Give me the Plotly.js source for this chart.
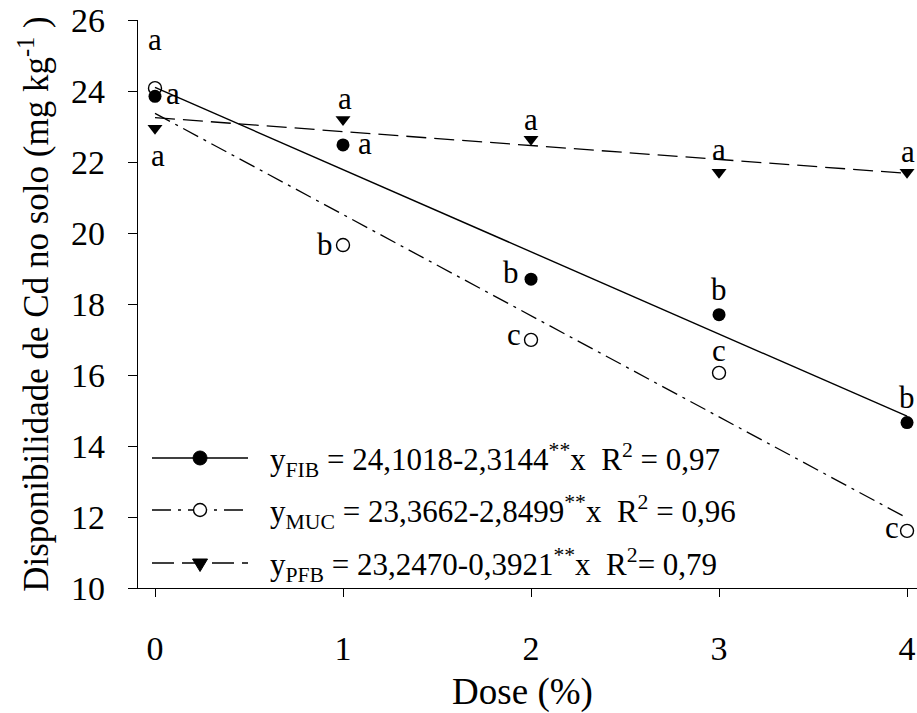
<!DOCTYPE html>
<html>
<head>
<meta charset="utf-8">
<script src="https://cdn.plot.ly/plotly-3.0.1.min.js"></script>
<style>html,body{margin:0;padding:0;background:#fff;}#chart{width:917px;height:713px;}</style>
</head>
<body>
<div id="chart"></div>
<script>
// ---- data ----
var dose = [0, 1, 2, 3, 4];
var cdFIB = [23.85, 22.48, 18.70, 17.70, 14.66];
var cdMUC = [24.08, 19.66, 16.99, 16.06, 11.61];
var cdPFB = [22.95, 23.20, 22.64, 21.71, 21.71];
var fitDose = [0, 4];
var fitFIB = [24.10, 14.84];
var fitMUC = [23.37, 11.97];
var fitPFB = [23.25, 21.68];
var lettersFIB = ['a', 'a', 'b', 'b', 'b'];
var lettersMUC = ['a', 'b', 'c', 'c', 'c'];
var lettersPFB = ['a', 'a', 'a', 'a', 'a'];
var seriesNames = ['FIB', 'MUC', 'PFB'];
var equations = [
  'y<sub>FIB</sub> = 24,1018-2,3144<sup>**</sup>x\u00a0\u00a0R<sup>2</sup> = 0,97',
  'y<sub>MUC</sub> = 23,3662-2,8499<sup>**</sup>x\u00a0\u00a0R<sup>2</sup> = 0,96',
  'y<sub>PFB</sub> = 23,2470-0,3921<sup>**</sup>x\u00a0\u00a0R<sup>2</sup>= 0,79'
];
var xTickLabels = ['0', '1', '2', '3', '4'];
var xTitle = 'Dose (%)';
var yTitle = 'Disponibilidade de Cd no solo (mg kg<sup>-1</sup> )';

// ---- styles ----
var FONT = '"Liberation Serif", "Times New Roman", serif';
var BLACK = '#000';
var dashFIB = 'solid', dashMUC = '17px,6px,3px,6px', dashPFB = '20px,8px';
// pixel offsets of the letters: [dx, dy up]
var offFIB = [[18, 3], [22, 1], [-20, 7], [0, 25], [0, 25]];
var offMUC = [[0, 49], [-18, 1], [-17, 5], [0, 22], [-15, 3]];
var offPFB = [[3, -27], [2, 21], [0, 20], [0, 23], [1, 21]];
// legend key geometry (paper fractions)
var legRowY = [0.2289, 0.1373, 0.0440];
var legLineX = [0.0304, 0.1521];
var legMarkX = 0.0913;
var legTextX = 0.1774;
var legDash = ['solid', '19px,7px,3px,7px', '22px,8px'];

var traces = [
  {x: fitDose, y: fitFIB, mode: 'lines', name: 'fit ' + seriesNames[0], showlegend: false,
   line: {color: BLACK, width: 1.4, dash: dashFIB}},
  {x: fitDose, y: fitMUC, mode: 'lines', name: 'fit ' + seriesNames[1], showlegend: false,
   line: {color: BLACK, width: 1.3, dash: dashMUC}},
  {x: fitDose, y: fitPFB, mode: 'lines', name: 'fit ' + seriesNames[2], showlegend: false,
   line: {color: BLACK, width: 1.3, dash: dashPFB}},
  {x: dose, y: cdFIB, mode: 'markers', name: seriesNames[0], showlegend: false,
   marker: {symbol: 'circle', size: 13, color: BLACK}},
  {x: dose, y: cdMUC, mode: 'markers', name: seriesNames[1], showlegend: false,
   marker: {symbol: 'circle-open', size: 13, color: BLACK, line: {width: 1.4}}},
  {x: dose, y: cdPFB, mode: 'markers', name: seriesNames[2], showlegend: false,
   marker: {symbol: 'triangle-down', size: 13, color: BLACK}}
];

var annotations = [];
function addLetters(ys, letters, offs) {
  for (var i = 0; i < dose.length; i++) {
    annotations.push({
      x: dose[i], y: ys[i], xref: 'x', yref: 'y', text: letters[i], showarrow: false,
      xanchor: 'center', yanchor: 'middle', xshift: offs[i][0], yshift: offs[i][1],
      font: {family: FONT, size: 31, color: BLACK}
    });
  }
}
addLetters(cdFIB, lettersFIB, offFIB);
addLetters(cdMUC, lettersMUC, offMUC);
addLetters(cdPFB, lettersPFB, offPFB);

// legend built from layout shapes + annotations
var shapes = [];
for (var k = 0; k < 3; k++) {
  shapes.push({type: 'line', xref: 'paper', yref: 'paper', x0: legLineX[0], x1: legLineX[1],
               y0: legRowY[k], y1: legRowY[k], line: {color: BLACK, width: 1.3, dash: legDash[k]}});
  annotations.push({xref: 'paper', yref: 'paper', x: legTextX, y: legRowY[k], text: equations[k],
                    showarrow: false, xanchor: 'left', yanchor: 'middle', yshift: -2,
                    font: {family: FONT, size: 31, color: BLACK}});
}
shapes.push({type: 'circle', xref: 'paper', yref: 'paper', xsizemode: 'pixel', ysizemode: 'pixel',
             xanchor: legMarkX, yanchor: legRowY[0], x0: -7, x1: 7, y0: -7, y1: 7,
             fillcolor: BLACK, line: {color: BLACK, width: 1}});
shapes.push({type: 'circle', xref: 'paper', yref: 'paper', xsizemode: 'pixel', ysizemode: 'pixel',
             xanchor: legMarkX, yanchor: legRowY[1], x0: -6.5, x1: 6.5, y0: -6.5, y1: 6.5,
             fillcolor: '#fff', line: {color: BLACK, width: 1.4}});
shapes.push({type: 'path', xref: 'paper', yref: 'paper', xsizemode: 'pixel', ysizemode: 'pixel',
             xanchor: legMarkX, yanchor: legRowY[2], path: 'M-7.5,4 L7.5,4 L0,-8.5 Z',
             fillcolor: BLACK, line: {color: BLACK, width: 1}});

var layout = {
  width: 917, height: 713,
  margin: {l: 128, r: 0, t: 20, b: 125, pad: 0},
  paper_bgcolor: '#fff', plot_bgcolor: '#fff',
  font: {family: FONT, color: BLACK},
  showlegend: false,
  xaxis: {range: [-0.1436, 4.053], tickvals: dose, ticktext: xTickLabels,
          showgrid: false, zeroline: false, showline: true, linecolor: BLACK, linewidth: 1.3,
          ticks: 'outside', ticklen: 8, tickwidth: 1.3, tickcolor: BLACK,
          tickfont: {family: FONT, size: 34, color: BLACK}, ticklabelstandoff: 22,
          title: {text: xTitle, font: {family: FONT, size: 37, color: BLACK}, standoff: 16}},
  yaxis: {range: [10, 26], dtick: 2, anchor: 'free', position: 0.0114,
          showgrid: false, zeroline: false, showline: true, linecolor: BLACK, linewidth: 1.3,
          ticks: 'outside', ticklen: 9, tickwidth: 1.3, tickcolor: BLACK,
          tickfont: {family: FONT, size: 34, color: BLACK}, ticklabelstandoff: 16,
          title: {text: yTitle, font: {family: FONT, size: 35, color: BLACK}, standoff: 10}},
  shapes: shapes,
  annotations: annotations
};

Plotly.newPlot('chart', traces, layout, {displayModeBar: false});
</script>
</body>
</html>
